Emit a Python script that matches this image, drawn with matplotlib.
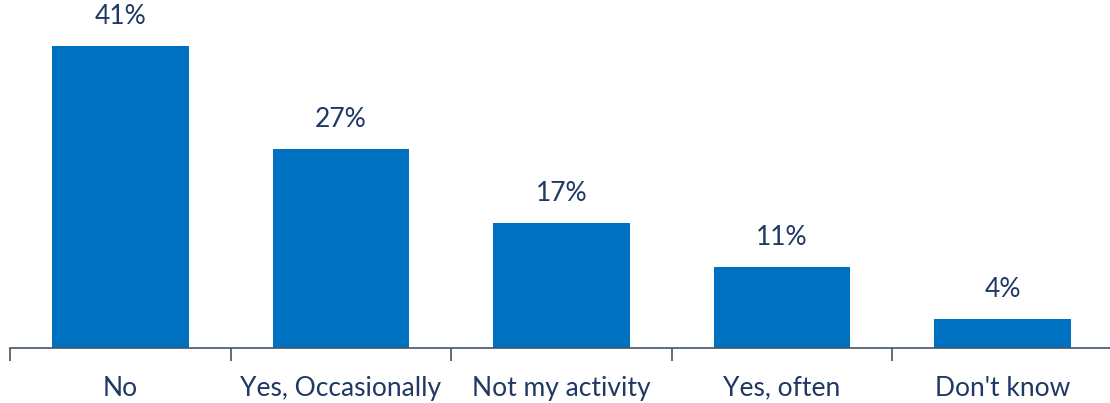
import matplotlib.pyplot as plt
from matplotlib.ticker import FixedLocator

categories = ["No", "Yes, Occasionally", "Not my activity", "Yes, often", "Don't know"]
values = [41, 27, 17, 11, 4]

bar_color = "#0070c0"
text_color = "#1f3864"
axis_color = "#44546a"

plt.rcParams['font.family'] = ['Lato', 'DejaVu Sans']

fig = plt.figure(figsize=(11.1, 4.03), dpi=100)
ax = fig.add_axes([10 / 1110, 55 / 403, 1103 / 1110, 348 / 403])

x = list(range(len(categories)))
bars = ax.bar(x, values, width=0.62, color=bar_color)

for xi, v in zip(x, values):
    ax.annotate(f"{v}%", (xi, v), xytext=(0, 12), textcoords="offset points",
                ha="center", va="bottom", fontsize=19, color=text_color)

ax.set_xlim(-0.5, 4.5)
ax.set_ylim(0, 348 / 7.37)

for side in ["top", "right", "left"]:
    ax.spines[side].set_visible(False)
ax.spines["bottom"].set_color(axis_color)
ax.spines["bottom"].set_linewidth(1.2)

ax.set_yticks([])
ax.set_xticks(x)
ax.set_xticklabels(categories, fontsize=19, color=text_color)
ax.tick_params(axis="x", which="major", length=0, pad=20)
ax.xaxis.set_minor_locator(FixedLocator([-0.5, 0.5, 1.5, 2.5, 3.5]))
ax.tick_params(axis="x", which="minor", length=9, width=1.2, color=axis_color, direction="out")

fig.savefig("out.png", dpi=100)
